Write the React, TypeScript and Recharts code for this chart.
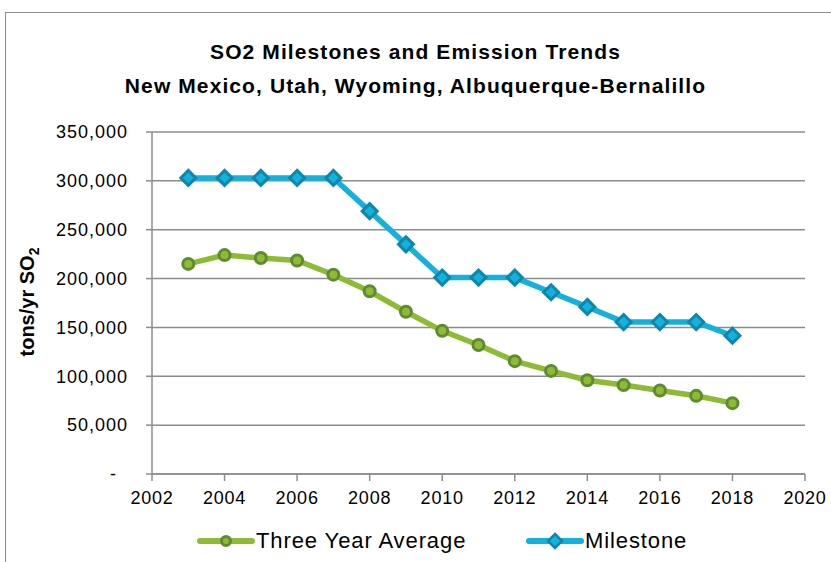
import React from "react";
import {
    LineChart,
    Line,
    XAxis,
    YAxis,
    CartesianGrid,
} from "recharts";

// values
const years = [2003, 2004, 2005, 2006, 2007, 2008, 2009, 2010, 2011, 2012, 2013, 2014, 2015, 2016, 2017, 2018];
const threeYearAverage = [215000, 224000, 221000, 218500, 204000, 187000, 166000, 146500, 132000, 115500, 105500, 96000, 91000, 85500, 80000, 72500];
const milestone = [303000, 303000, 303000, 303000, 303000, 269000, 235000, 201000, 201000, 201000, 186000, 171000, 155500, 155500, 155500, 141500];
const xTicks = [2002, 2004, 2006, 2008, 2010, 2012, 2014, 2016, 2018, 2020];
const yTicks = [0, 50000, 100000, 150000, 200000, 250000, 300000, 350000];

const FONT = '"Liberation Sans", Arial, sans-serif';
const GREEN = "#8dbb36";
const GREEN_DARK = "#5d8c30";
const BLUE = "#14b1dc";
const BLUE_DARK = "#0d87aa";
const GRID = "#8c8c8c";

const data = years.map((y, i) => ({
    year: y,
    avg: threeYearAverage[i],
    milestone: milestone[i],
}));

const YTick = (props: any) => {
    const { x, y, payload } = props;
    const v = payload.value;
    if (v === 0) {
        return (
            <text x={x - 12} y={y} dy="0.35em" textAnchor="end" fontSize={18} fontFamily={FONT} fill="#000">
                -
            </text>
        );
    }
    return (
        <text x={x} y={y} dy="0.35em" textAnchor="end" fontSize={18} letterSpacing={1} fontFamily={FONT} fill="#000">
            {v.toLocaleString("en-US")}
        </text>
    );
};

const CircleDot = (props: any) => {
    const { cx, cy } = props;
    if (cx == null || cy == null) return null;
    return <circle cx={cx} cy={cy} r={5.5} fill={GREEN} stroke={GREEN_DARK} strokeWidth={3} />;
};

const DiamondDot = (props: any) => {
    const { cx, cy } = props;
    if (cx == null || cy == null) return null;
    const s = 7.5;
    return (
        <polygon
            points={`${cx},${cy - s} ${cx + s},${cy} ${cx},${cy + s} ${cx - s},${cy}`}
            fill={BLUE}
            stroke={BLUE_DARK}
            strokeWidth={3}
        />
    );
};

// legend drawn by hand so it does not take room from the plot
const LegendRow = () => {
    const item = (label: string, color: string, marker: React.ReactNode, left: number) => (
        <div style={{ position: "absolute", left, top: 0, display: "flex", alignItems: "center" }}>
            <svg width={58} height={20}>
                <line x1={3} y1={10} x2={55} y2={10} stroke={color} strokeWidth={6} strokeLinecap="round" />
                {marker}
            </svg>
            <span style={{ fontSize: 22, letterSpacing: 0.9, marginLeft: 1 }}>{label}</span>
        </div>
    );
    return (
        <div style={{ position: "absolute", left: 0, top: 528, width: 831, height: 30, fontFamily: FONT, color: "#000" }}>
            {item("Three Year Average", GREEN,
                <circle cx={29} cy={10} r={4.5} fill={GREEN} stroke={GREEN_DARK} strokeWidth={3} />, 197)}
            {item("Milestone", BLUE,
                <polygon points="29,3 36,10 29,17 22,10" fill={BLUE} stroke={BLUE_DARK} strokeWidth={2.5} />, 526)}
        </div>
    );
};

const YLabel = () => (
    <text
        x={0}
        y={0}
        transform="translate(34, 302) rotate(-90)"
        textAnchor="middle"
        fontSize={20}
        fontWeight="bold"
        fontFamily={FONT}
        fill="#000"
    >
        tons/yr SO<tspan fontSize={14} dy={5}>2</tspan>
    </text>
);

export default function App() {
    return (
        <div
            style={{
                position: "absolute",
                left: 0,
                top: 0,
                width: 831,
                height: 562,
                overflow: "hidden",
                background: "#fff",
                fontFamily: FONT,
            }}
        >
            <div
                style={{
                    position: "absolute",
                    left: 5,
                    top: 12,
                    width: 900,
                    height: 700,
                    border: `1.5px solid ${GRID}`,
                }}
            />
            <div
                style={{
                    position: "absolute",
                    left: 0,
                    width: 831,
                    top: 35,
                    textAlign: "center",
                    fontWeight: "bold",
                    fontSize: 21,
                    lineHeight: "34px",
                    letterSpacing: 1.1,
                }}
            >
                <div>SO2 Milestones and Emission Trends</div>
                <div>New Mexico, Utah, Wyoming, Albuquerque-Bernalillo</div>
            </div>
            <div style={{ position: "absolute", left: 0, top: 0 }}>
                <LineChart
                    width={831}
                    height={562}
                    data={data}
                    margin={{ top: 132, right: 26, bottom: 0, left: 60 }}
                >
                    <CartesianGrid vertical={false} stroke={GRID} strokeWidth={1.5} />
                    <XAxis
                        dataKey="year"
                        type="number"
                        domain={[2002, 2020]}
                        ticks={xTicks}
                        interval={0}
                        stroke={GRID}
                        strokeWidth={1.5}
                        tickSize={7}
                        tickMargin={10}
                        height={88}
                        tick={{ fontSize: 18, fill: "#000", fontFamily: FONT, letterSpacing: 0.8 }}
                    />
                    <YAxis
                        type="number"
                        domain={[0, 350000]}
                        ticks={yTicks}
                        interval={0}
                        width={92}
                        stroke={GRID}
                        strokeWidth={1.5}
                        tickSize={6}
                        tickMargin={18}
                        tick={<YTick />}
                        label={<YLabel />}
                    />
                    <Line
                        dataKey="avg"
                        name="Three Year Average"
                        stroke={GREEN}
                        strokeWidth={5.5}
                        dot={<CircleDot />}
                        activeDot={false}
                        isAnimationActive={false}
                    />
                    <Line
                        dataKey="milestone"
                        name="Milestone"
                        stroke={BLUE}
                        strokeWidth={5.5}
                        dot={<DiamondDot />}
                        activeDot={false}
                        isAnimationActive={false}
                    />
                </LineChart>
            </div>
            <LegendRow />
        </div>
    );
}
